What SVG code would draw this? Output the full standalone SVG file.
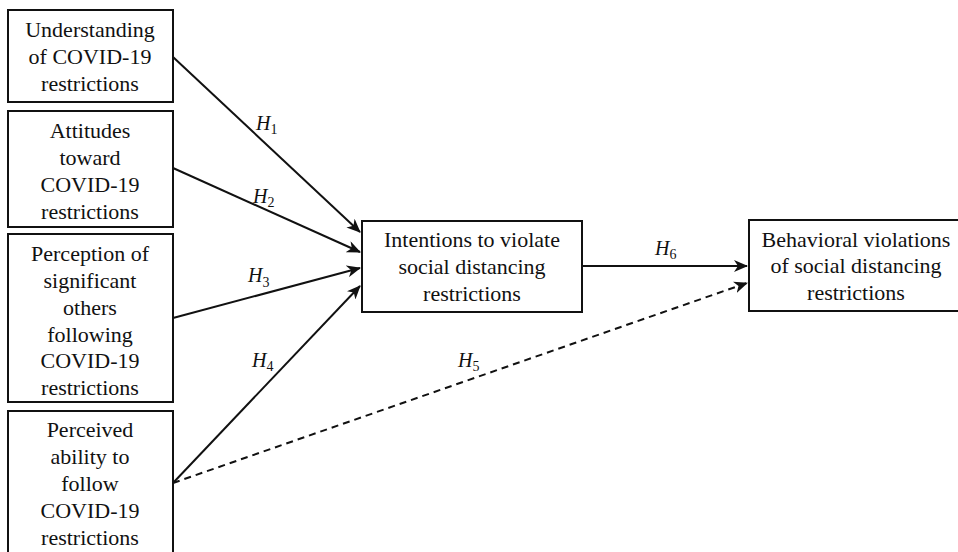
<svg xmlns="http://www.w3.org/2000/svg" width="958" height="552" viewBox="0 0 958 552">
<style>
.box{fill:#fff;stroke:#111;stroke-width:2}
.t{font-family:"Liberation Serif","Times New Roman",serif;font-size:22px;fill:#111;text-anchor:middle}
.h{font-family:"Liberation Serif","Times New Roman",serif;font-size:20px;font-style:italic;fill:#111}
.sub{font-size:14px;font-style:normal}
.ln{stroke:#111;stroke-width:2;fill:none}
.dash{stroke-dasharray:7 5}
</style>
<defs>
<marker id="arr" viewBox="0 0 14 12" refX="13" refY="6" markerWidth="14" markerHeight="12" orient="auto" markerUnits="userSpaceOnUse">
<path d="M0,0 L14,6 L0,12 L4,6 z" fill="#111"/>
</marker>
</defs>
<rect width="958" height="552" fill="#fff"/>
<g id="connectors">
<line class="ln" x1="173" y1="57" x2="360" y2="232" marker-end="url(#arr)"/>
<line class="ln" x1="173" y1="168" x2="360" y2="252" marker-end="url(#arr)"/>
<line class="ln" x1="173" y1="318" x2="360" y2="268" marker-end="url(#arr)"/>
<line class="ln" x1="173" y1="483" x2="360" y2="286" marker-end="url(#arr)"/>
<line class="ln dash" x1="173" y1="483" x2="747" y2="283" marker-end="url(#arr)"/>
<line class="ln" x1="582" y1="266" x2="747" y2="266" marker-end="url(#arr)"/>
<text class="h" x="256" y="130">H<tspan class="sub" dy="4">1</tspan></text>
<text class="h" x="253" y="203">H<tspan class="sub" dy="4">2</tspan></text>
<text class="h" x="248" y="282">H<tspan class="sub" dy="5">3</tspan></text>
<text class="h" x="252" y="367">H<tspan class="sub" dy="4">4</tspan></text>
<text class="h" x="458" y="367">H<tspan class="sub" dy="4">5</tspan></text>
<text class="h" x="655" y="255">H<tspan class="sub" dy="4">6</tspan></text>
</g>
<g id="n1">
<rect class="box" x="8" y="10" width="165" height="92"/>
<text class="t" x="90" y="37">Understanding</text>
<text class="t" x="90" y="64">of COVID-19</text>
<text class="t" x="90" y="91">restrictions</text>
</g>
<g id="n2">
<rect class="box" x="8" y="111" width="165" height="116"/>
<text class="t" x="90" y="138">Attitudes</text>
<text class="t" x="90" y="165">toward</text>
<text class="t" x="90" y="192">COVID-19</text>
<text class="t" x="90" y="219">restrictions</text>
</g>
<g id="n3">
<rect class="box" x="8" y="234" width="165" height="168"/>
<text class="t" x="90" y="261">Perception of</text>
<text class="t" x="90" y="288">significant</text>
<text class="t" x="90" y="315">others</text>
<text class="t" x="90" y="342">following</text>
<text class="t" x="90" y="368">COVID-19</text>
<text class="t" x="90" y="395">restrictions</text>
</g>
<g id="n4">
<rect class="box" x="8" y="411" width="165" height="160"/>
<text class="t" x="90" y="437">Perceived</text>
<text class="t" x="90" y="464">ability to</text>
<text class="t" x="90" y="491">follow</text>
<text class="t" x="90" y="518">COVID-19</text>
<text class="t" x="90" y="545">restrictions</text>
</g>
<g id="n5">
<rect class="box" x="362" y="221" width="220" height="91"/>
<text class="t" x="472" y="247">Intentions to violate</text>
<text class="t" x="472" y="274">social distancing</text>
<text class="t" x="472" y="301">restrictions</text>
</g>
<g id="n6">
<rect class="box" x="749" y="220" width="215" height="91"/>
<text class="t" x="856" y="247">Behavioral violations</text>
<text class="t" x="856" y="273">of social distancing</text>
<text class="t" x="856" y="300">restrictions</text>
</g>
</svg>
